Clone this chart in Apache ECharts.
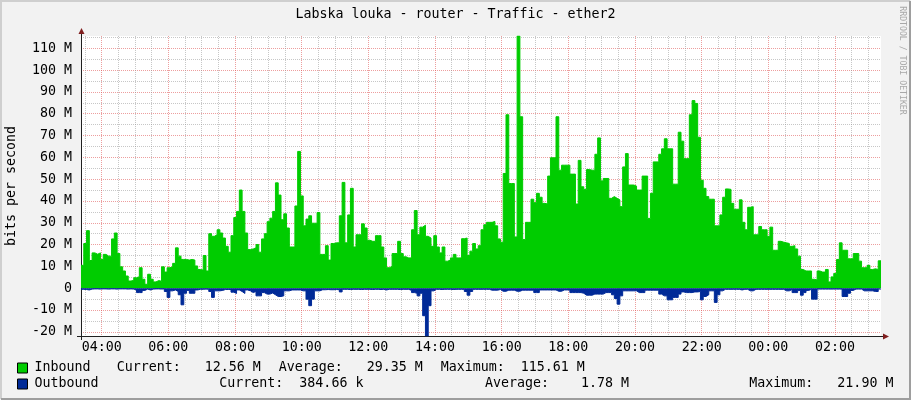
<!DOCTYPE html>
<html><head><meta charset="utf-8">
<script src="https://cdn.jsdelivr.net/npm/echarts@6/dist/echarts.min.js"></script>
<style>html,body{margin:0;padding:0;background:#F2F2F2}#c{width:911px;height:400px}</style>
</head><body><div id="c"></div>
<script>
const chartTitle = 'Labska louka - router - Traffic - ether2';
const yAxisTitle = 'bits per second';
const watermark = 'RRDTOOL / TOBI OETIKER';
const seriesNames = ['Inbound', 'Outbound'];
const startHour = 3.379;   // 03:22:45
const endHour = 27.379;    // 03:22:45 next day
const stepHours = 5 / 60;  // 5 minute samples
const yMin = -21.9, yMax = 115.61; // M bits/s

// Inbound traffic, M bits/s (5-minute samples)
const inbound = [
  10.5, 20.5, 26.4, 12.7, 16.2, 15.6, 16.2, 13.2, 15.5, 14.7,
  14.7, 22.6, 25.3, 15.9, 9.8, 7.9, 5.6, 3.3, 3.6, 4.8,
  5.3, 9.4, 4.1, 1.8, 6.4, 4.1, 2.9, 3.5, 3.2, 9.8,
  7.4, 9.4, 9.8, 11.4, 18.5, 14.7, 13.2, 13.2, 12.9, 13.2,
  12.9, 10.2, 8.6, 8.3, 15.0, 7.9, 25.0, 23.8, 24.5, 26.8,
  25.3, 23.0, 19.2, 16.5, 24.1, 32.4, 35.2, 45.0, 35.2, 25.3,
  17.7, 18.0, 18.5, 20.0, 16.5, 22.6, 25.0, 30.5, 32.1, 35.2,
  48.3, 42.7,
  31.4, 34.1, 27.6, 18.9, 18.9, 37.7, 62.7, 42.3, 28.6, 31.7,
  33.2, 29.8, 29.8, 34.7, 15.5, 15.5, 19.5, 12.9, 20.5, 20.8,
  20.8, 33.2, 48.5, 20.8, 33.6, 45.8, 18.9, 24.5, 24.5, 29.5,
  27.6, 22.0, 21.5, 21.5, 24.1, 24.1, 18.9, 13.9, 9.4, 10.0,
  15.9, 15.9, 21.5, 15.9, 14.4, 13.9, 13.9, 26.8, 35.6, 24.5,
  28.0, 28.9, 23.8, 23.0, 19.2, 24.1, 18.9, 16.2, 18.9, 12.4,
  12.9, 13.9, 15.5, 13.9, 13.9, 22.7, 23.0, 15.0, 17.0, 20.5,
  18.0, 19.5,
  26.8, 29.1, 30.2, 30.2, 30.6, 28.6, 22.6, 21.1, 52.6, 79.5,
  48.0, 48.0, 23.5, 115.61, 78.6, 22.3, 30.2, 30.2, 40.8, 39.2,
  43.5, 41.7, 38.9, 38.6, 51.4, 59.8, 59.8, 78.6, 54.1, 56.4,
  56.4, 56.4, 52.3, 52.3, 38.6, 58.6, 46.5, 45.3, 54.4, 54.1,
  54.1, 61.4, 68.9, 49.2, 50.3, 50.3, 41.2, 42.0, 41.2, 40.5,
  37.4, 55.6, 61.7, 47.3, 47.3, 46.8, 45.0, 45.0, 51.4, 51.4,
  32.0, 43.5, 57.9, 57.9, 61.4, 63.9, 68.5, 63.9, 63.9, 47.7,
  47.7, 71.5,
  67.4, 59.4, 59.4, 79.5, 86.0, 84.7, 69.2, 49.5, 45.8, 42.0,
  40.8, 40.8, 28.6, 28.6, 33.6, 41.7, 45.5, 45.3, 38.9, 36.2,
  36.2, 40.5, 30.2, 26.8, 37.1, 37.4, 24.5, 24.5, 28.3, 26.8,
  26.8, 23.8, 28.0, 17.4, 17.4, 21.5, 21.1, 20.8, 20.5, 19.2,
  19.5, 18.0, 14.7, 8.6, 7.9, 7.9, 7.9, 4.1, 3.8, 7.9,
  7.4, 7.4, 8.6, 2.9, 5.2, 6.8, 13.2, 20.8, 17.4, 17.4,
  13.5, 13.5, 15.9, 15.9, 12.4, 9.4, 9.4, 10.5, 8.6, 8.9,
  8.6, 12.56
];

// Outbound traffic, M bits/s (drawn below zero)
const outbound = [
  0.5, 0.6, 0.8, 0.4, 0.3, 0.3, 0.4, 0.3, 0.3, 0.4,
  0.3, 0.3, 0.4, 0.3, 0.3, 0.3, 0.4, 0.3, 0.4, 0.8,
  2.0, 2.0, 1.0, 0.4, 0.8, 0.4, 0.3, 0.3, 0.4, 0.3,
  1.5, 4.2, 1.2, 0.8, 1.5, 3.0, 7.6, 2.3, 1.0, 2.3,
  2.3, 0.8, 0.5, 0.5, 0.4, 0.5, 1.5, 4.2, 1.2, 1.2,
  1.0, 0.6, 0.6, 0.6, 1.8, 2.4, 0.8, 1.5, 2.4, 0.8,
  1.2, 2.0, 1.5, 3.5, 3.5, 2.0, 2.7, 2.7, 2.2, 3.0,
  3.8, 3.8,
  3.5, 1.2, 1.2, 0.8, 0.8, 0.8, 0.8, 1.2, 1.2, 5.0,
  8.0, 5.0, 1.2, 1.2, 0.7, 0.7, 0.6, 0.7, 0.7, 0.6,
  0.7, 1.7, 0.5, 0.5, 0.6, 0.5, 0.5, 0.5, 0.6, 0.5,
  0.5, 0.5, 0.6, 0.5, 0.5, 0.6, 0.5, 0.8, 0.5, 0.5,
  0.5, 0.5, 0.6, 0.5, 0.5, 0.5, 1.0, 2.0, 2.3, 3.5,
  2.3, 12.6, 21.9, 8.0, 1.2, 0.5, 0.5, 0.6, 0.5, 0.5,
  0.5, 0.6, 0.5, 0.5, 0.5, 0.5, 1.5, 3.2, 1.5, 0.5,
  0.5, 0.5,
  0.5, 0.5, 0.5, 0.9, 0.9, 0.9, 0.6, 1.4, 1.4, 0.9,
  0.9, 0.9, 1.4, 1.4, 0.9, 0.9, 0.9, 0.9, 0.9, 2.0,
  2.0, 0.8, 0.8, 0.8, 0.8, 0.8, 0.8, 1.4, 1.4, 0.8,
  0.8, 0.8, 2.0, 2.0, 2.0, 2.0, 2.3, 3.2, 3.2, 3.2,
  2.7, 2.7, 2.7, 2.7, 2.0, 2.0, 2.0, 3.0, 4.7, 7.3,
  3.5, 1.2, 1.2, 1.2, 1.2, 1.2, 2.0, 2.0, 2.0, 0.9,
  0.9, 0.9, 0.9, 0.9, 2.7, 3.5, 3.5, 5.3, 5.3, 4.2,
  4.2, 2.7,
  1.7, 2.0, 2.0, 2.0, 1.7, 1.7, 1.5, 5.3, 3.8, 3.0,
  1.2, 1.2, 6.5, 3.0, 1.2, 0.5, 0.5, 0.5, 0.5, 0.5,
  0.5, 0.8, 0.5, 0.5, 1.2, 1.2, 0.5, 0.5, 0.5, 0.5,
  0.5, 0.5, 0.5, 0.5, 0.5, 0.5, 0.5, 1.2, 1.2, 0.6,
  2.0, 2.0, 1.0, 3.2, 2.0, 1.0, 0.5, 5.0, 5.0, 0.4,
  0.4, 0.4, 0.4, 0.4, 0.4, 0.4, 0.4, 0.4, 3.8, 3.8,
  2.3, 1.0, 0.4, 0.4, 0.4, 1.2, 1.2, 1.2, 1.2, 1.5,
  1.5, 0.38
];

const inboundStats = ['Current:   12.56 M', 'Average:   29.35 M', 'Maximum:  115.61 M'];
const outboundStats = ['Current:  384.66 k', 'Average:    1.78 M', 'Maximum:   21.90 M'];

const FONT = '"DejaVu Sans Mono", monospace';
const FS = 13.3;
const MAJOR = 'rgba(222,79,79,0.55)';
const MINOR = 'rgba(143,143,143,0.5)';

function toPairs(vals, sign) {
  const d = vals.map((v, i) => [startHour + i * stepHours, sign * v]);
  d.push([endHour, sign * vals[vals.length - 1]]);
  return d;
}

function statText(x, y, t) {
  return { type: 'text', x: x, y: y, silent: true,
    style: { text: t, align: 'left', verticalAlign: 'middle', font: FS + 'px ' + FONT, fill: '#000' } };
}

const chart = echarts.init(document.getElementById('c'), null, { renderer: 'canvas' });
chart.setOption({
  backgroundColor: '#F2F2F2',
  animation: false,
  textStyle: { fontFamily: FONT },
  title: { text: chartTitle, left: 'center', top: 8, padding: 0,
    textStyle: { fontFamily: FONT, fontSize: FS, fontWeight: 'normal', color: '#000' } },
  grid: { left: 81, top: 36, width: 800, height: 300, show: true, backgroundColor: '#FFFFFF', borderWidth: 0, containLabel: false },
  legend: {
    orient: 'vertical', left: 17, top: 360, padding: 0, itemWidth: 10, itemHeight: 10, itemGap: 0,
    icon: 'rect', selectedMode: false, data: seriesNames,
    itemStyle: { borderColor: '#000', borderWidth: 1 },
    textStyle: { fontFamily: FONT, fontSize: FS, color: '#000', lineHeight: 16, padding: [0, 0, 0, 2] }
  },
  xAxis: {
    type: 'value', min: startHour, max: endHour, splitNumber: 12,
    axisLine: { onZero: false, lineStyle: { color: '#1F1F1F', width: 1 } },
    axisTick: { show: false },
    axisLabel: { showMinLabel: false, showMaxLabel: false, margin: 5,
      fontFamily: FONT, fontSize: FS, color: '#000',
      formatter: v => String(Math.round(v) % 24).padStart(2, '0') + ':00' },
    splitLine: { show: true, showMinLine: false, showMaxLine: false, lineStyle: { color: MAJOR, type: [1, 1], width: 1 } },
    minorTick: { show: false, splitNumber: 4 },
    minorSplitLine: { show: true, lineStyle: { color: MINOR, type: [1, 1], width: 1 } }
  },
  yAxis: {
    type: 'value', min: yMin, max: yMax, splitNumber: 14,
    axisLine: { show: true, onZero: false, lineStyle: { color: '#1F1F1F', width: 1 } },
    axisTick: { show: false },
    axisLabel: { showMinLabel: false, showMaxLabel: false, margin: 9,
      fontFamily: FONT, fontSize: FS, color: '#000',
      formatter: v => v === 0 ? '0' : Math.round(v) + ' M' },
    splitLine: { show: true, showMinLine: false, showMaxLine: false, lineStyle: { color: MAJOR, type: [1, 1], width: 1 } },
    minorTick: { show: false, splitNumber: 2 },
    minorSplitLine: { show: true, lineStyle: { color: MINOR, type: [1, 1], width: 1 } }
  },
  series: [
    { name: seriesNames[0], type: 'line', step: 'end', data: toPairs(inbound, 1),
      symbol: 'none', showSymbol: false, silent: true,
      itemStyle: { color: '#00CC00' }, lineStyle: { color: '#00CC00', width: 1 },
      areaStyle: { color: '#00CC00', opacity: 1 } },
    { name: seriesNames[1], type: 'line', step: 'end', data: toPairs(outbound, -1),
      symbol: 'none', showSymbol: false, silent: true,
      itemStyle: { color: '#002A97' }, lineStyle: { color: '#002A97', width: 1 },
      areaStyle: { color: '#002A97', opacity: 1 } }
  ],
  graphic: [
    { type: 'polyline', silent: true, shape: { points: [[1, 399], [1, 1], [910, 1]] }, style: { stroke: '#CFCFCF', lineWidth: 2, fill: null } },
    { type: 'polyline', silent: true, shape: { points: [[1, 399], [910, 399], [910, 1]] }, style: { stroke: '#9E9E9E', lineWidth: 2, fill: null } },
    { type: 'line', silent: true, shape: { x1: 77, y1: 336.5, x2: 884, y2: 336.5 }, style: { stroke: '#1F1F1F', lineWidth: 1 } },
    { type: 'line', silent: true, shape: { x1: 81.5, y1: 31, x2: 81.5, y2: 340 }, style: { stroke: '#1F1F1F', lineWidth: 1 } },
    { type: 'polygon', silent: true, shape: { points: [[78.5, 34], [84.5, 34], [81.5, 28]] }, style: { fill: '#801F1F' } },
    { type: 'polygon', silent: true, shape: { points: [[883, 333.5], [883, 339.5], [889, 336.5]] }, style: { fill: '#801F1F' } },
    { type: 'text', x: 12, y: 186, rotation: Math.PI / 2, silent: true,
      style: { text: yAxisTitle, align: 'center', verticalAlign: 'middle', font: FS + 'px ' + FONT, fill: '#000' } },
    { type: 'text', x: 902, y: 60.5, rotation: -Math.PI / 2, silent: true,
      style: { text: watermark, align: 'center', verticalAlign: 'middle', font: '8.2px ' + FONT, fill: '#A8A8A8' } },
    statText(116.7, 368, inboundStats[0]),
    statText(278.7, 368, inboundStats[1]),
    statText(440.7, 368, inboundStats[2]),
    statText(219.3, 384, outboundStats[0]),
    statText(485, 384, outboundStats[1]),
    statText(749.3, 384, outboundStats[2])
  ]
});
</script>
</body></html>
